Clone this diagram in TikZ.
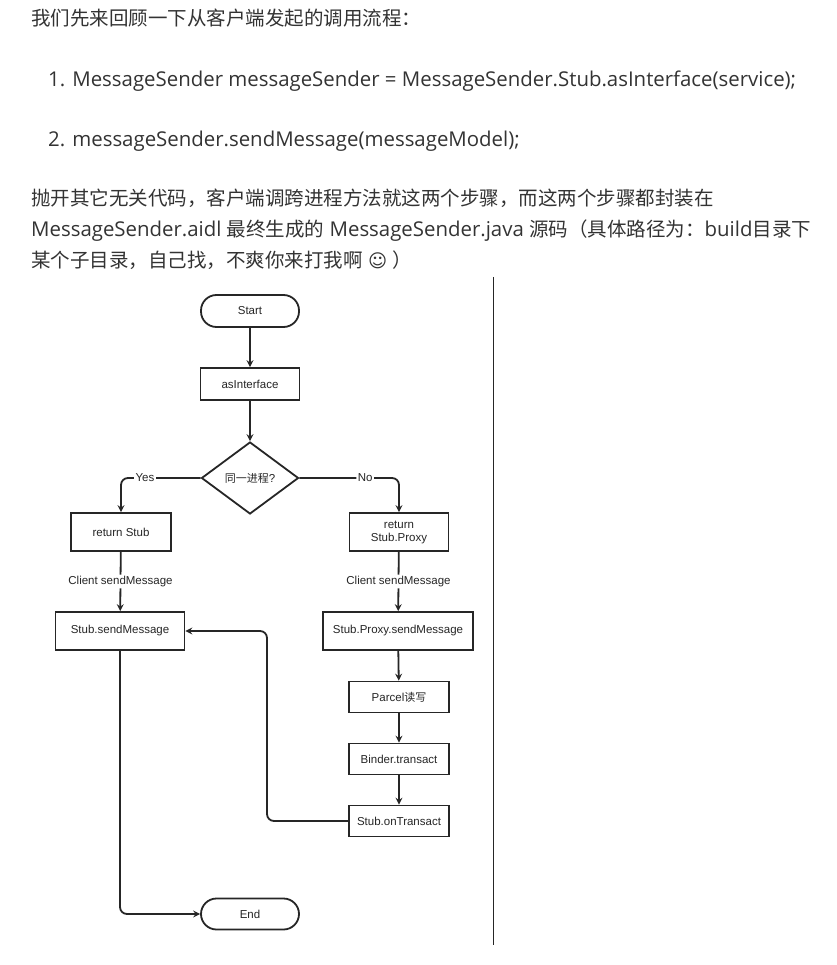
\documentclass[tikz,border=0pt]{standalone}
\usepackage{fontspec}
\setmainfont{Open Sans}
\newfontfamily\cjk[Scale=0.956]{Noto Sans CJK SC}
\newfontfamily\chartfont{Liberation Sans}
\newfontfamily\symfont[Scale=0.9]{DejaVu Sans}
\usetikzlibrary{arrows.meta,shapes.geometric}
\definecolor{txtgray}{HTML}{333333}
\definecolor{linegray}{HTML}{262626}
\begin{document}
\begin{tikzpicture}[x=1pt,y=-1pt,>={Stealth[length=7pt,width=7pt,inset=2.5pt]},
  para/.style={anchor=base west,inner sep=0pt,text=txtgray,font=\fontsize{20.4}{24}\selectfont},
  stepbox/.style={draw=linegray,fill=white,line width=1.8pt,minimum height=38pt,inner sep=1pt,align=center,text=linegray,font=\chartfont\fontsize{11.5}{13}\selectfont},
  endbox/.style={stepbox,rounded corners=15.5pt,minimum height=31pt,minimum width=98pt},
  ask/.style={stepbox,diamond,minimum width=97pt,minimum height=72pt},
  flow/.style={draw=linegray,line width=1.8pt,rounded corners=7pt},
  tag/.style={fill=white,inner sep=1.5pt,text=linegray,font=\chartfont\fontsize{11.5}{13}\selectfont}]
\useasboundingbox (0,0) rectangle (836,965);
% text above the chart
\coordinate (L1) at (31,26);
\coordinate (L2) at (48,87);
\coordinate (L3) at (48,147);
\coordinate (L4) at (31,206);
\coordinate (L5) at (31,237);
\coordinate (L6) at (31,268);
\node[para] (t1) at (L1) {\cjk 我们先来回顾一下从客户端发起的调用流程：};
\node[para] (t2) at (L2) {1. MessageSender messageSender = MessageSender.Stub.asInterface(service);};
\node[para] (t3) at (L3) {2. messageSender.sendMessage(messageModel);};
\node[para] (t4) at (L4) {\cjk 抛开其它无关代码，客户端调跨进程方法就这两个步骤，而这两个步骤都封装在};
\node[para] (t5) at (L5) {MessageSender.aidl {\cjk 最终生成的} MessageSender.java {\cjk 源码（具体路径为：}build{\cjk 目录下}};
\node[para] (t6) at (L6) {{\cjk 某个子目录，自己找，不爽你来打我啊} {\symfont ☺} {\cjk ）}};
% chart
\coordinate (S) at (250,311);
\coordinate (A) at (250,384);
\coordinate (Q) at (250,478);
\coordinate (R1) at (121,532);
\coordinate (R2) at (399,532);
\coordinate (M1) at (120,631);
\coordinate (M2) at (398,631);
\coordinate (P) at (399,697);
\coordinate (B) at (399,759);
\coordinate (O) at (399,821);
\coordinate (E) at (250,914);
\coordinate (back) at (267,700);
\coordinate (rule top) at (493,277);
\coordinate (rule bot) at (493,945);
\node[endbox,minimum height=32pt] (start) at (S) {Start};
\node[stepbox,minimum width=99pt,minimum height=32pt] (asif) at (A) {asInterface};
\node[ask] (same) at (Q) {{\cjk 同一进程}?};
\node[stepbox,minimum width=100pt] (retstub) at (R1) {return Stub};
\node[stepbox,minimum width=99pt] (retproxy) at (R2) {return\\Stub.Proxy};
\node[stepbox,minimum width=129pt] (stubsend) at (M1) {Stub.sendMessage};
\node[stepbox,minimum width=150pt] (proxysend) at (M2) {Stub.Proxy.sendMessage};
\node[stepbox,minimum width=100pt,minimum height=31pt] (parcel) at (P) {Parcel{\cjk 读写}};
\node[stepbox,minimum width=100pt,minimum height=31pt] (binder) at (B) {Binder.transact};
\node[stepbox,minimum width=100pt,minimum height=31pt] (ontrans) at (O) {Stub.onTransact};
\node[endbox] (end) at (E) {End};
\draw[flow,->] (start) -- (asif);
\draw[flow,->] (asif) -- (same);
\draw[flow,->] (same.west) -| node[tag,pos=0.35] {Yes} (retstub.north);
\draw[flow,->] (same.east) -| node[tag,pos=0.33] {No} (retproxy.north);
\draw[flow,->] (retstub) -- node[tag] {Client sendMessage} (stubsend);
\draw[flow,->] (retproxy) -- node[tag] {Client sendMessage} (proxysend);
\draw[flow,->] (proxysend) -- (parcel);
\draw[flow,->] (parcel) -- (binder);
\draw[flow,->] (binder) -- (ontrans);
\draw[flow,->] (ontrans.west) -- (ontrans.west -| back) |- (stubsend.east);
\draw[flow,->] (stubsend.south) |- (end.west);
\draw[linegray,line width=1pt] (rule top) -- (rule bot);
\end{tikzpicture}
\end{document}
